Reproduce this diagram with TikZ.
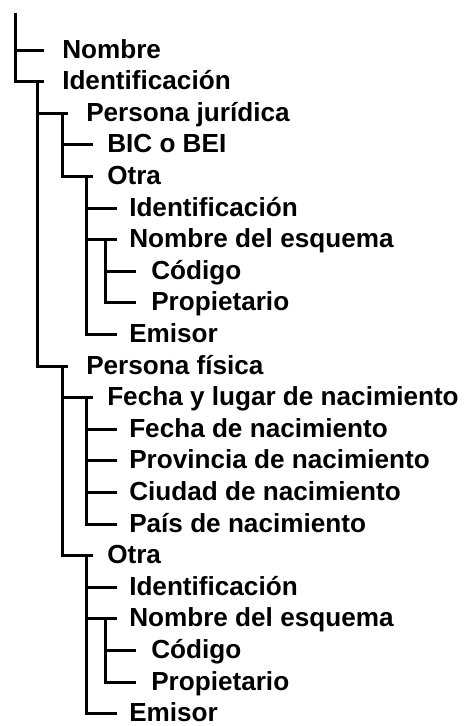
\documentclass[tikz,border=0pt]{standalone}
\usepackage{fontspec}
\setmainfont{Liberation Sans}
\begin{document}
\begin{tikzpicture}[x=0.75pt,y=-0.75pt,
  lbl/.style={anchor=base west,inner sep=0pt,font=\fontsize{19.6}{23.5}\selectfont\bfseries},
  conn/.style={line width=2.25pt,line join=miter}]
\useasboundingbox (0,0) rectangle (467,726);
% labels (baseline = row + 8)
\node[lbl] (n0)  at (62,58)    {Nombre};
\node[lbl] (n1)  at (62,89.6)  {Identificación};
\node[lbl] (n2)  at (86,121.2) {Persona jurídica};
\node[lbl] (n3)  at (107,152.8) {BIC o BEI};
\node[lbl] (n4)  at (107,184.4) {Otra};
\node[lbl] (n5)  at (129,216)  {Identificación};
\node[lbl] (n6)  at (129,247.6) {Nombre del esquema};
\node[lbl] (n7)  at (151,279.2) {Código};
\node[lbl] (n8)  at (151,310.8) {Propietario};
\node[lbl] (n9)  at (129,342.4) {Emisor};
\node[lbl] (n10) at (86,374)   {Persona física};
\node[lbl] (n11) at (107,405.6) {Fecha y lugar de nacimiento};
\node[lbl] (n12) at (129,437.2) {Fecha de nacimiento};
\node[lbl] (n13) at (129,468.8) {Provincia de nacimiento};
\node[lbl] (n14) at (129,500.4) {Ciudad de nacimiento};
\node[lbl] (n15) at (129,532)  {País de nacimiento};
\node[lbl] (n16) at (107,563.6) {Otra};
\node[lbl] (n17) at (129,595.2) {Identificación};
\node[lbl] (n18) at (129,626.8) {Nombre del esquema};
\node[lbl] (n19) at (151,658.4) {Código};
\node[lbl] (n20) at (151,690)  {Propietario};
\node[lbl] (n21) at (129,721.6) {Emisor};
% connector coordinates: h = start, e = end of horizontal stub, t = top of child line
\coordinate (root) at (15,13);
\coordinate (h0) at (15,50);     \coordinate (e0) at (44,50);
\coordinate (e1) at (44,81.6);   \coordinate (t1) at (37,81.6);
\coordinate (h2) at (37,113.2);  \coordinate (e2) at (68,113.2);  \coordinate (t2) at (62,113.2);
\coordinate (h3) at (62,144.8);  \coordinate (e3) at (93,144.8);
\coordinate (e4) at (93,176.4);  \coordinate (t4) at (86,176.4);
\coordinate (h5) at (86,208);    \coordinate (e5) at (117,208);
\coordinate (h6) at (86,239.6);  \coordinate (e6) at (117,239.6); \coordinate (t6) at (105,239.6);
\coordinate (h7) at (105,271.2); \coordinate (e7) at (136,271.2);
\coordinate (e8) at (136,302.8);
\coordinate (e9) at (117,334.4);
\coordinate (e10) at (68,366);   \coordinate (t10) at (62,366);
\coordinate (h11) at (62,397.6); \coordinate (e11) at (93,397.6); \coordinate (t11) at (86,397.6);
\coordinate (h12) at (86,429.2); \coordinate (e12) at (117,429.2);
\coordinate (h13) at (86,460.8); \coordinate (e13) at (117,460.8);
\coordinate (h14) at (86,492.4); \coordinate (e14) at (117,492.4);
\coordinate (e15) at (117,524);
\coordinate (e16) at (93,555.6);  \coordinate (t16) at (86,555.6);
\coordinate (h17) at (86,587.2);  \coordinate (e17) at (117,587.2);
\coordinate (h18) at (86,618.8);  \coordinate (e18) at (117,618.8); \coordinate (t18) at (105,618.8);
\coordinate (h19) at (105,650.4); \coordinate (e19) at (136,650.4);
\coordinate (e20) at (136,682);
\coordinate (e21) at (117,713.6);
% connectors
\draw[conn] (root) |- (e1);
\draw[conn] (h0) -- (e0);
\draw[conn] (t1) |- (e10);
\draw[conn] (h2) -- (e2);
\draw[conn] (t2) |- (e4);
\draw[conn] (h3) -- (e3);
\draw[conn] (t4) |- (e9);
\draw[conn] (h5) -- (e5);
\draw[conn] (h6) -- (e6);
\draw[conn] (t6) |- (e8);
\draw[conn] (h7) -- (e7);
\draw[conn] (t10) |- (e16);
\draw[conn] (h11) -- (e11);
\draw[conn] (t11) |- (e15);
\draw[conn] (h12) -- (e12);
\draw[conn] (h13) -- (e13);
\draw[conn] (h14) -- (e14);
\draw[conn] (t16) |- (e21);
\draw[conn] (h17) -- (e17);
\draw[conn] (h18) -- (e18);
\draw[conn] (t18) |- (e20);
\draw[conn] (h19) -- (e19);
\end{tikzpicture}
\end{document}
